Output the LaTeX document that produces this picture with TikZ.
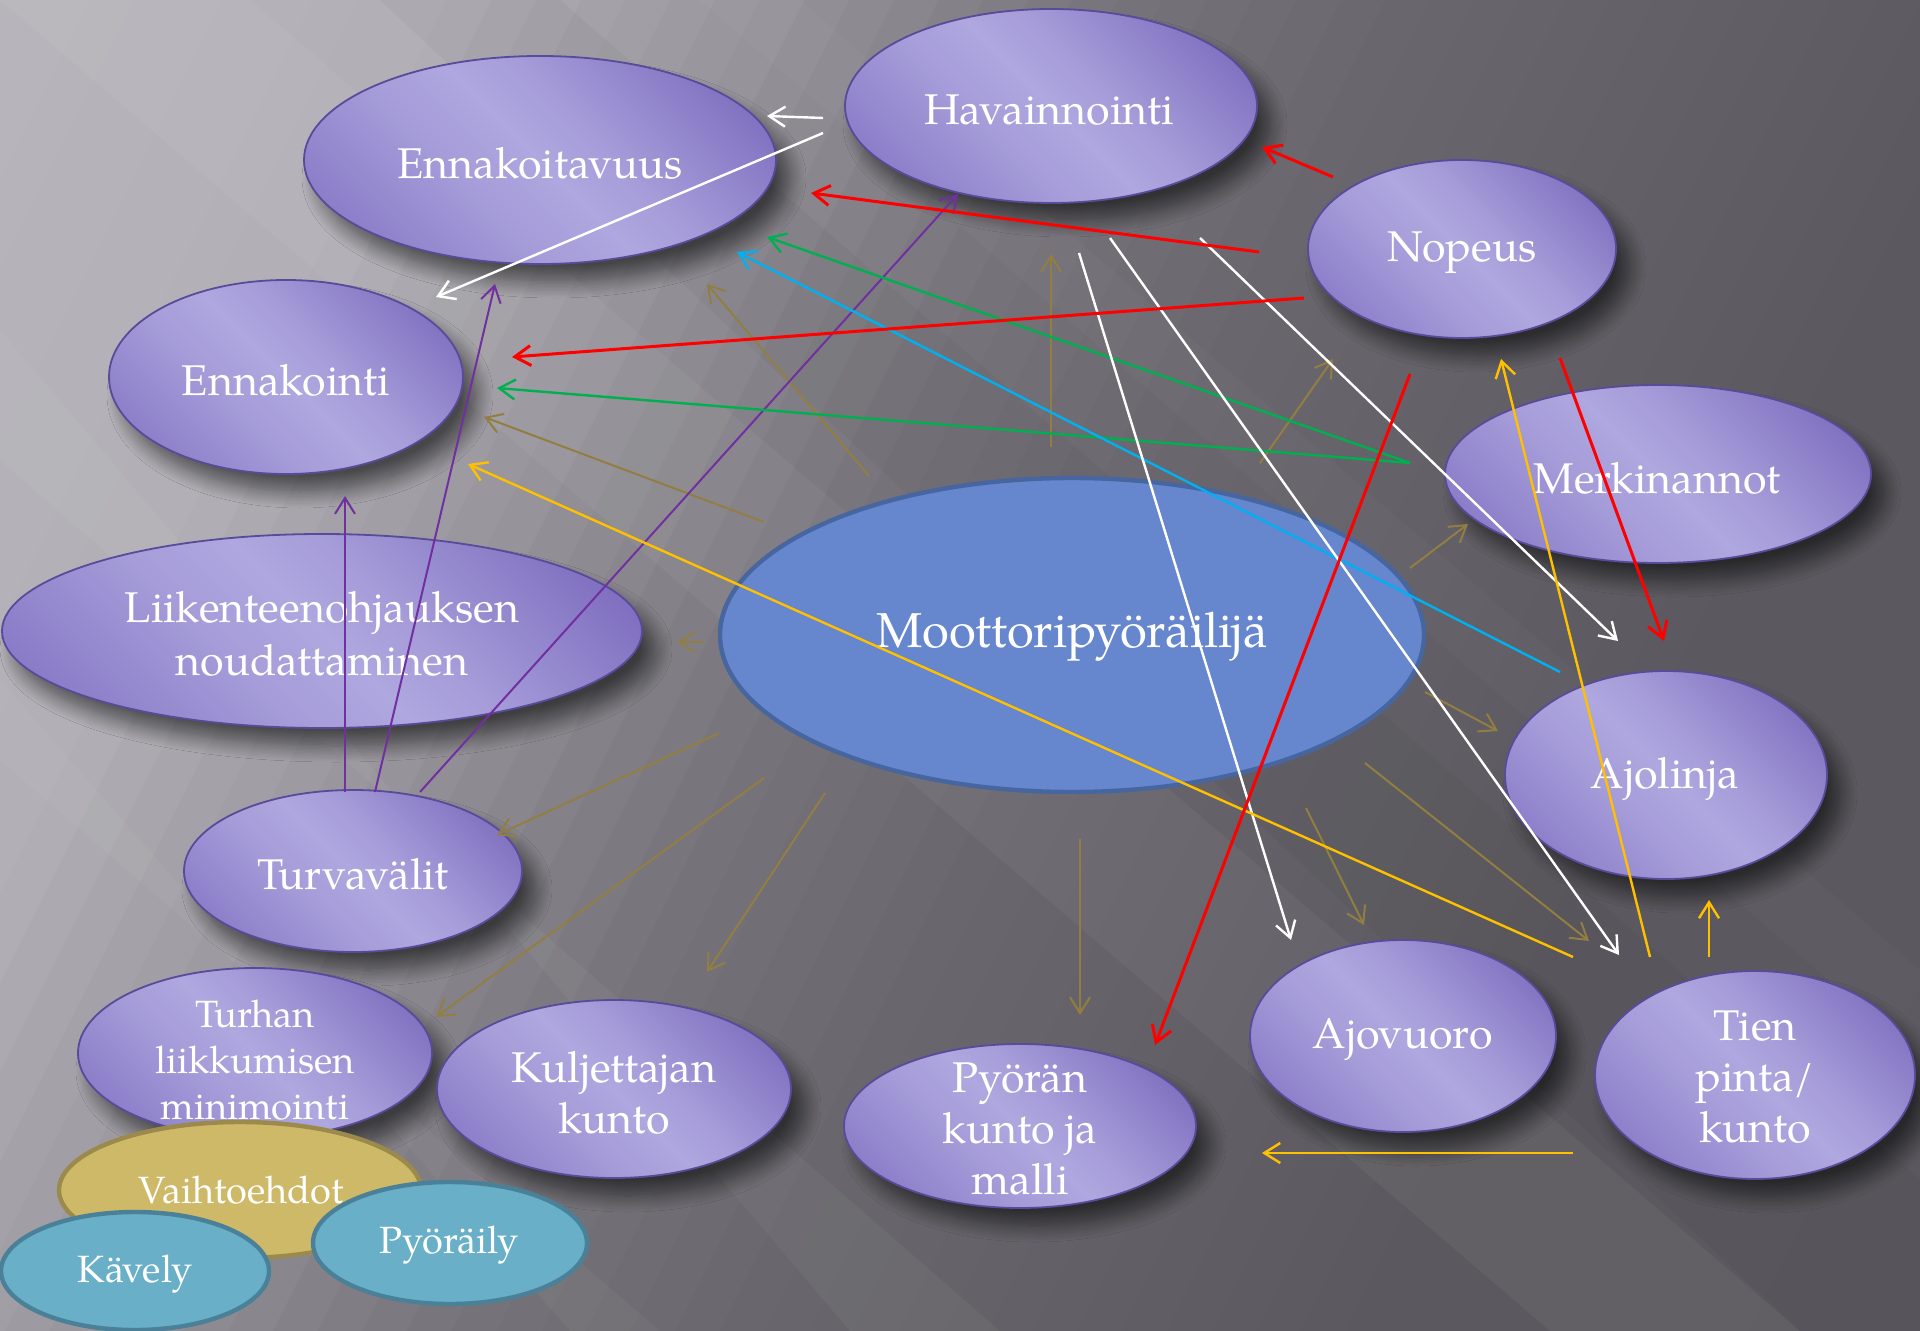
\documentclass[tikz,border=0pt]{standalone}
\usepackage{fontspec}
\setmainfont{TeX Gyre Pagella}
\usetikzlibrary{shapes.geometric,arrows.meta,shadows.blur}
\definecolor{bg6}{HTML}{5A585E}
\definecolor{pl}{HTML}{AFA7DF}
\definecolor{pl2}{HTML}{A59CD9}
\definecolor{pm}{HTML}{9386CE}
\definecolor{pd}{HTML}{8070C0}
\definecolor{pd2}{HTML}{8A7CC8}
\definecolor{pborder}{HTML}{5A4A9A}
\definecolor{mainfill}{HTML}{6686CE}
\definecolor{mainborder}{HTML}{47659F}
\definecolor{vfill}{HTML}{CDB968}
\definecolor{vborder}{HTML}{9B8A4B}
\definecolor{bfill}{HTML}{69AFC7}
\definecolor{bborder}{HTML}{4A8198}
\definecolor{olive}{HTML}{927E42}
\definecolor{cyanl}{HTML}{00B0F0}
\definecolor{greenl}{HTML}{00B050}
\definecolor{purplel}{HTML}{7030A0}
\definecolor{yellowl}{HTML}{FFC000}
\definecolor{redl}{HTML}{FF0000}
\pgfdeclarehorizontalshading{purp}{100bp}{color(0bp)=(pd2); color(22bp)=(pd2); color(40bp)=(pl2); color(50bp)=(pl); color(58bp)=(pl2); color(78bp)=(pd); color(100bp)=(pd)}
\tikzset{
  shad/.style={blur shadow={shadow xshift=7pt, shadow yshift=-9pt, shadow blur radius=8pt, shadow blur steps=12, shadow opacity=55}},
  pell/.style={ellipse, draw=pborder, line width=0.9pt, shade, shading=purp, shading angle=45, inner sep=0pt, shad},
  mainell/.style={ellipse, draw=mainborder, line width=2.2pt, fill=mainfill, inner sep=0pt},
  vell/.style={ellipse, draw=vborder, line width=2.2pt, fill=vfill, inner sep=0pt},
  bell/.style={ellipse, draw=bborder, line width=2.2pt, fill=bfill, inner sep=0pt},
  lbl/.style={text=white, align=center, font=\fontsize{21.5}{25.5}\selectfont, inner sep=0pt},
  slbl/.style={text=white, align=center, font=\fontsize{19}{23}\selectfont, inner sep=0pt},
  arr/.style={-{Straight Barb[length=8pt,width=10pt]}},
  wa/.style={arr, draw=white, line width=1.2pt},
  ra/.style={arr, draw=redl, line width=1.5pt},
  ga/.style={arr, draw=greenl, line width=1.2pt},
  ca/.style={arr, draw=cyanl, line width=1.2pt},
  pa/.style={arr, draw=purplel, line width=1pt},
  ya/.style={arr, draw=yellowl, line width=1.2pt},
  oa/.style={arr, draw=olive, line width=1pt},
  ray/.style={fill=white, opacity=#1},
}
\begin{document}
\begin{tikzpicture}[x=0.5pt,y=-0.5pt]
\useasboundingbox (0,0) rectangle (1920,1331);
\begin{scope}
\clip (0,0) rectangle (1920,1331);
\fill[bg6] (0,0) rectangle (1920,1331);
% background gradient, built from thin strips
\foreach \i in {0,...,62}{
  \pgfmathsetmacro{\da}{\i*40}
  \pgfmathsetmacro{\db}{\i*40+42}
  \pgfmathsetmacro{\dm}{\i*40+20}
  \pgfmathtruncatemacro{\vv}{\dm<400 ? 184-\dm/400*6 : (\dm<700 ? 178-(\dm-400)/300*28 : (\dm<1000 ? 150-(\dm-700)/300*32 : (\dm<1300 ? 118-(\dm-1000)/300*14 : (\dm<1800 ? 104-(\dm-1300)/500*12 : max(90,92-(\dm-1800)/700*2)))))}
  \pgfmathtruncatemacro{\vb}{\vv-2}
  \pgfmathtruncatemacro{\vc}{\vv+4}
  \definecolor{stripc}{RGB}{\vv,\vb,\vc}
  \fill[stripc] ({0.894*\da+1162},{0.447*\da-2324}) -- ({0.894*\db+1162},{0.447*\db-2324}) -- ({0.894*\db-1162},{0.447*\db+2324}) -- ({0.894*\da-1162},{0.447*\da+2324}) -- cycle;
}
% light rays (diagonal bands)
\fill[ray=0.045] (0,0) -- (250,0) -- (1800,1331) -- (1550,1331) -- cycle;
\fill[ray=0.04] (0,330) -- (0,460) -- (1000,1331) -- (850,1331) -- cycle;
\fill[ray=0.035] (0,680) -- (0,760) -- (660,1331) -- (570,1331) -- cycle;
\fill[black, opacity=0.03] (380,0) -- (560,0) -- (1920,1180) -- (1920,1331) -- (1800,1331) -- cycle;
\fill[ray=0.025] (700,0) -- (800,0) -- (1920,970) -- (1920,1060) -- cycle;
\end{scope}

% nodes
\node[pell, minimum width=206pt, minimum height=97pt] (hav) at (1051,106) {};
\node[pell, minimum width=236pt, minimum height=104pt] (ennv) at (540,160) {};
\node[pell, minimum width=177pt, minimum height=97pt] (enn) at (286,377) {};
\node[pell, minimum width=154pt, minimum height=89pt] (nop) at (1462,249) {};
\node[pell, minimum width=213pt, minimum height=89pt] (merk) at (1658,474) {};
\node[pell, minimum width=320pt, minimum height=97pt] (liik) at (322,631) {};
\node[mainell, minimum width=352pt, minimum height=157pt] (moot) at (1072,635) {};
\node[pell, minimum width=161pt, minimum height=104pt] (ajol) at (1666,775) {};
\node[pell, minimum width=169pt, minimum height=81pt] (turv) at (353,871) {};
\node[pell, minimum width=177pt, minimum height=85pt] (turh) at (255,1053) {};
\node[pell, minimum width=177pt, minimum height=89pt] (kulj) at (614,1089) {};
\node[pell, minimum width=176pt, minimum height=82pt] (pyor) at (1020,1126) {};
\node[pell, minimum width=153pt, minimum height=96pt] (ajov) at (1403,1036) {};
\node[pell, minimum width=160pt, minimum height=104pt] (tien) at (1755,1075) {};
\node[vell, minimum width=181pt, minimum height=68pt] (vaih) at (240,1190) {};
\node[bell, minimum width=134pt, minimum height=59pt] (kave) at (135,1271) {};
\node[bell, minimum width=137pt, minimum height=61pt] (pyol) at (450,1243) {};

% texts
\node[lbl] (havt) at (1049,110) {Havainnointi};
\node[lbl] (ennvt) at (540,163) {Ennakoitavuus};
\node[lbl] (ennt) at (286,380) {Ennakointi};
\node[lbl] (nopt) at (1462,253) {Nopeus};
\node[lbl] (merkt) at (1657,478) {Merkinannot};
\node[lbl, font=\fontsize{21.5}{26.5}\selectfont] (liikt) at (322,634) {Liikenteenohjauksen\\noudattaminen};
\node[lbl, font=\fontsize{24.5}{28}\selectfont] (moott) at (1072,637) {Moottoripyöräilijä};
\node[lbl] (ajolt) at (1665,779) {Ajolinja};
\node[lbl] (turvt) at (353,874) {Turvavälit};
\node[slbl] (turht) at (255,1060) {Turhan\\liikkumisen\\minimointi};
\node[lbl] (kuljt) at (614,1093) {Kuljettajan\\kunto};
\node[lbl] (pyort) at (1020,1129) {Pyörän\\kunto ja\\malli};
\node[lbl] (ajovt) at (1403,1040) {Ajovuoro};
\node[lbl] (tient) at (1755,1077) {Tien\\pinta/\\kunto};
\node[slbl] (vaiht) at (241,1190) {Vaihtoehdot};
\node[slbl] (kavet) at (135,1274) {Kävely};
\node[slbl] (pyolt) at (449,1245) {Pyöräily};

% connector end points
\coordinate (w1s) at (823,118); \coordinate (w1e) at (767,116);
\coordinate (w2s) at (823,133); \coordinate (w2e) at (436,297);
\coordinate (w3s) at (1079,253); \coordinate (w3e) at (1291,940);
\coordinate (w4s) at (1110,238); \coordinate (w4e) at (1619,955);
\coordinate (w5s) at (1200,238); \coordinate (w5e) at (1618,641);
\coordinate (r1s) at (1333,177); \coordinate (r1e) at (1262,147);
\coordinate (r2s) at (1259,252); \coordinate (r2e) at (811,193);
\coordinate (r3s) at (1304,298); \coordinate (r3e) at (512,357);
\coordinate (r4s) at (1410,374); \coordinate (r4e) at (1155,1045);
\coordinate (r5s) at (1560,358); \coordinate (r5e) at (1664,641);
\coordinate (g1s) at (1410,463); \coordinate (g1e) at (767,237);
\coordinate (g2e) at (497,388);
\coordinate (c1s) at (1560,672); \coordinate (c1e) at (737,252);
\coordinate (p1s) at (345,792); \coordinate (p1e) at (345,496);
\coordinate (p2s) at (375,792); \coordinate (p2e) at (495,284);
\coordinate (p3s) at (420,792); \coordinate (p3e) at (958,194);
\coordinate (y1s) at (1573,957); \coordinate (y1e) at (468,464);
\coordinate (y2s) at (1650,957); \coordinate (y2e) at (1501,359);
\coordinate (y3s) at (1709,957); \coordinate (y3e) at (1709,900);
\coordinate (y4s) at (1573,1153); \coordinate (y4e) at (1262,1153);
\coordinate (o1s) at (1051,447); \coordinate (o1e) at (1051,254);
\coordinate (o2s) at (869,476); \coordinate (o2e) at (707,284);
\coordinate (o3s) at (764,522); \coordinate (o3e) at (484,417);
\coordinate (o4s) at (704,642); \coordinate (o4e) at (677,642);
\coordinate (o5s) at (719,733); \coordinate (o5e) at (497,835);
\coordinate (o6s) at (764,778); \coordinate (o6e) at (436,1017);
\coordinate (o7s) at (825,793); \coordinate (o7e) at (707,972);
\coordinate (o8s) at (1080,839); \coordinate (o8e) at (1080,1015);
\coordinate (o9s) at (1306,808); \coordinate (o9e) at (1364,925);
\coordinate (o10s) at (1365,763); \coordinate (o10e) at (1589,941);
\coordinate (o11s) at (1425,692); \coordinate (o11e) at (1498,731);
\coordinate (o12s) at (1410,568); \coordinate (o12e) at (1468,524);
\coordinate (o13s) at (1260,463); \coordinate (o13e) at (1333,359);

% olive arrows (from Moottoripyöräilijä)
\draw[oa] (o1s) -- (o1e);
\draw[oa] (o2s) -- (o2e);
\draw[oa] (o3s) -- (o3e);
\draw[oa] (o4s) -- (o4e);
\draw[oa] (o5s) -- (o5e);
\draw[oa] (o6s) -- (o6e);
\draw[oa] (o7s) -- (o7e);
\draw[oa] (o8s) -- (o8e);
\draw[oa] (o9s) -- (o9e);
\draw[oa] (o10s) -- (o10e);
\draw[oa] (o11s) -- (o11e);
\draw[oa] (o12s) -- (o12e);
\draw[oa] (o13s) -- (o13e);
% purple (Turvavälit)
\draw[pa] (p1s) -- (p1e);
\draw[pa] (p2s) -- (p2e);
\draw[pa] (p3s) -- (p3e);
% green (Merkinannot)
\draw[ga] (g1s) -- (g1e);
\draw[ga] (g1s) -- (g2e);
% cyan (Ajolinja)
\draw[ca] (c1s) -- (c1e);
% white (Havainnointi)
\draw[wa] (w1s) -- (w1e);
\draw[wa] (w2s) -- (w2e);
\draw[wa] (w3s) -- (w3e);
\draw[wa] (w4s) -- (w4e);
\draw[wa] (w5s) -- (w5e);
% yellow (Tien pinta/kunto)
\draw[ya] (y1s) -- (y1e);
\draw[ya] (y2s) -- (y2e);
\draw[ya] (y3s) -- (y3e);
\draw[ya] (y4s) -- (y4e);
% red (Nopeus)
\draw[ra] (r1s) -- (r1e);
\draw[ra] (r2s) -- (r2e);
\draw[ra] (r3s) -- (r3e);
\draw[ra] (r4s) -- (r4e);
\draw[ra] (r5s) -- (r5e);
\end{tikzpicture}
\end{document}
